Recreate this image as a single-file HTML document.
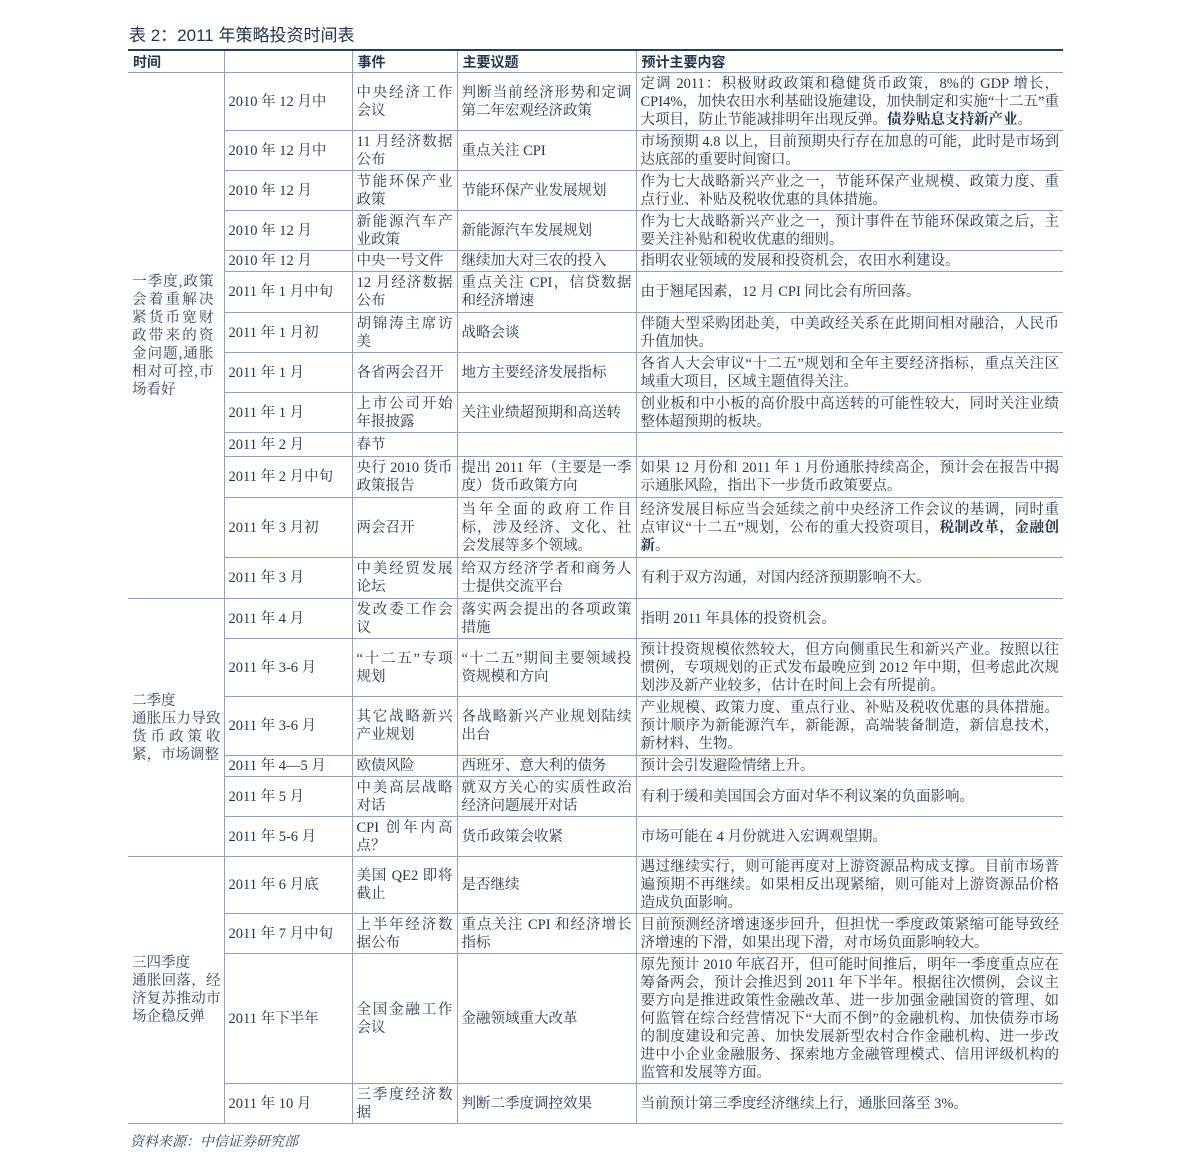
<!DOCTYPE html>
<html><head><meta charset="utf-8"><style>
body{margin:0;background:#fff;width:1191px;height:1168px;position:relative;font-family:"Liberation Serif","Noto Serif CJK SC",serif;color:#1f3550;}
.title{position:absolute;left:129px;top:21px;font-family:"Liberation Sans","Noto Sans CJK SC",sans-serif;font-size:17px;color:#1f3550;}
table{position:absolute;left:128px;top:49px;width:935px;border-collapse:collapse;table-layout:fixed;border-top:2px solid #24405f;}
td{border:1px solid #8da2bb;padding:0 4px;font-size:14.5px;line-height:18px;vertical-align:middle;text-align:justify;overflow:hidden;}
tr td:first-child{border-left:none;}
tr td:last-child{border-right:none;}
th{font-family:"Liberation Sans","Noto Sans CJK SC",sans-serif;font-weight:bold;font-size:14px;text-align:left;padding:0 5px;border:1px solid #8da2bb;border-top:none;height:21px;}
th:first-child{border-left:none}th:last-child{border-right:none}
td.g{padding:0 3px 0 4px;color:#2c4460}
td.g1{padding:0 10px 0 4px}
b{font-weight:bold}
.src{position:absolute;left:130px;top:1131px;font-style:italic;font-size:14px;color:#2c4460;}
</style></head><body>
<div class="title">表 2：2011 年策略投资时间表</div>
<table>
<colgroup><col style="width:96px"><col style="width:128px"><col style="width:105px"><col style="width:179px"><col style="width:427px"></colgroup>
<tr><th>时间</th><th></th><th>事件</th><th>主要议题</th><th>预计主要内容</th></tr>
<tr style="height:58px"><td class="g g1" rowspan="13">一季度,政策会着重解决紧货币宽财政带来的资金问题,通胀相对可控,市场看好</td><td>2010 年 12 月中</td><td>中央经济工作会议</td><td>判断当前经济形势和定调第二年宏观经济政策</td><td>定调 2011：积极财政政策和稳健货币政策，8%的 GDP 增长，CPI4%，加快农田水利基础设施建设，加快制定和实施“十二五”重大项目，防止节能减排明年出现反弹。<b>债券贴息支持新产业。</b></td></tr>
<tr style="height:40px"><td>2010 年 12 月中</td><td>11 月经济数据公布</td><td>重点关注 CPI</td><td>市场预期 4.8 以上，目前预期央行存在加息的可能，此时是市场到达底部的重要时间窗口。</td></tr>
<tr style="height:40px"><td>2010 年 12 月</td><td>节能环保产业政策</td><td>节能环保产业发展规划</td><td>作为七大战略新兴产业之一，节能环保产业规模、政策力度、重点行业、补贴及税收优惠的具体措施。</td></tr>
<tr style="height:40px"><td>2010 年 12 月</td><td>新能源汽车产业政策</td><td>新能源汽车发展规划</td><td>作为七大战略新兴产业之一，预计事件在节能环保政策之后，主要关注补贴和税收优惠的细则。</td></tr>
<tr style="height:21px"><td>2010 年 12 月</td><td>中央一号文件</td><td>继续加大对三农的投入</td><td>指明农业领域的发展和投资机会，农田水利建设。</td></tr>
<tr style="height:41px"><td>2011 年 1 月中旬</td><td>12 月经济数据公布</td><td>重点关注 CPI，信贷数据和经济增速</td><td>由于翘尾因素，12 月 CPI 同比会有所回落。</td></tr>
<tr style="height:40px"><td>2011 年 1 月初</td><td>胡锦涛主席访美</td><td>战略会谈</td><td>伴随大型采购团赴美，中美政经关系在此期间相对融洽，人民币升值加快。</td></tr>
<tr style="height:40px"><td>2011 年 1 月</td><td>各省两会召开</td><td>地方主要经济发展指标</td><td>各省人大会审议“十二五”规划和全年主要经济指标，重点关注区域重大项目，区域主题值得关注。</td></tr>
<tr style="height:40px"><td>2011 年 1 月</td><td>上市公司开始年报披露</td><td>关注业绩超预期和高送转</td><td>创业板和中小板的高价股中高送转的可能性较大，同时关注业绩整体超预期的板块。</td></tr>
<tr style="height:24px"><td>2011 年 2 月</td><td>春节</td><td></td><td></td></tr>
<tr style="height:41px"><td>2011 年 2 月中旬</td><td>央行 2010 货币政策报告</td><td>提出 2011 年（主要是一季度）货币政策方向</td><td>如果 12 月份和 2011 年 1 月份通胀持续高企，预计会在报告中揭示通胀风险，指出下一步货币政策要点。</td></tr>
<tr style="height:60px"><td>2011 年 3 月初</td><td>两会召开</td><td>当年全面的政府工作目标，涉及经济、文化、社会发展等多个领域。</td><td>经济发展目标应当会延续之前中央经济工作会议的基调，同时重点审议“十二五”规划，公布的重大投资项目，<b>税制改革，金融创新。</b></td></tr>
<tr style="height:41px"><td>2011 年 3 月</td><td>中美经贸发展论坛</td><td>给双方经济学者和商务人士提供交流平台</td><td>有利于双方沟通，对国内经济预期影响不大。</td></tr>
<tr style="height:40px"><td class="g" rowspan="6">二季度<br>通胀压力导致货币政策收紧，市场调整</td><td>2011 年 4 月</td><td>发改委工作会议</td><td>落实两会提出的各项政策措施</td><td>指明 2011 年具体的投资机会。</td></tr>
<tr style="height:58px"><td>2011 年 3-6 月</td><td>“十二五”专项规划</td><td>“十二五”期间主要领域投资规模和方向</td><td>预计投资规模依然较大，但方向侧重民生和新兴产业。按照以往惯例，专项规划的正式发布最晚应到 2012 年中期，但考虑此次规划涉及新产业较多，估计在时间上会有所提前。</td></tr>
<tr style="height:59px"><td>2011 年 3-6 月</td><td>其它战略新兴产业规划</td><td>各战略新兴产业规划陆续出台</td><td>产业规模、政策力度、重点行业、补贴及税收优惠的具体措施。预计顺序为新能源汽车，新能源，高端装备制造，新信息技术，新材料、生物。</td></tr>
<tr style="height:21px"><td>2011 年 4—5 月</td><td>欧债风险</td><td>西班牙、意大利的债务</td><td>预计会引发避险情绪上升。</td></tr>
<tr style="height:40px"><td>2011 年 5 月</td><td>中美高层战略对话</td><td>就双方关心的实质性政治经济问题展开对话</td><td>有利于缓和美国国会方面对华不利议案的负面影响。</td></tr>
<tr style="height:40px"><td>2011 年 5-6 月</td><td>CPI 创年内高点？</td><td>货币政策会收紧</td><td>市场可能在 4 月份就进入宏调观望期。</td></tr>
<tr style="height:57px"><td class="g" rowspan="4">三四季度<br>通胀回落，经济复苏推动市场企稳反弹</td><td>2011 年 6 月底</td><td>美国 QE2 即将截止</td><td>是否继续</td><td>遇过继续实行，则可能再度对上游资源品构成支撑。目前市场普遍预期不再继续。如果相反出现紧缩，则可能对上游资源品价格造成负面影响。</td></tr>
<tr style="height:40px"><td>2011 年 7 月中旬</td><td>上半年经济数据公布</td><td>重点关注 CPI 和经济增长指标</td><td>目前预测经济增速逐步回升，但担忧一季度政策紧缩可能导致经济增速的下滑，如果出现下滑，对市场负面影响较大。</td></tr>
<tr style="height:130px"><td>2011 年下半年</td><td>全国金融工作会议</td><td>金融领域重大改革</td><td>原先预计 2010 年底召开，但可能时间推后，明年一季度重点应在筹备两会，预计会推迟到 2011 年下半年。根据往次惯例，会议主要方向是推进政策性金融改革、进一步加强金融国资的管理、如何监管在综合经营情况下“大而不倒”的金融机构、加快债券市场的制度建设和完善、加快发展新型农村合作金融机构、进一步改进中小企业金融服务、探索地方金融管理模式、信用评级机构的监管和发展等方面。</td></tr>
<tr style="height:40px"><td>2011 年 10 月</td><td>三季度经济数据</td><td>判断二季度调控效果</td><td>当前预计第三季度经济继续上行，通胀回落至 3%。</td></tr>
</table>
<div class="src">资料来源：中信证券研究部</div>
</body></html>
